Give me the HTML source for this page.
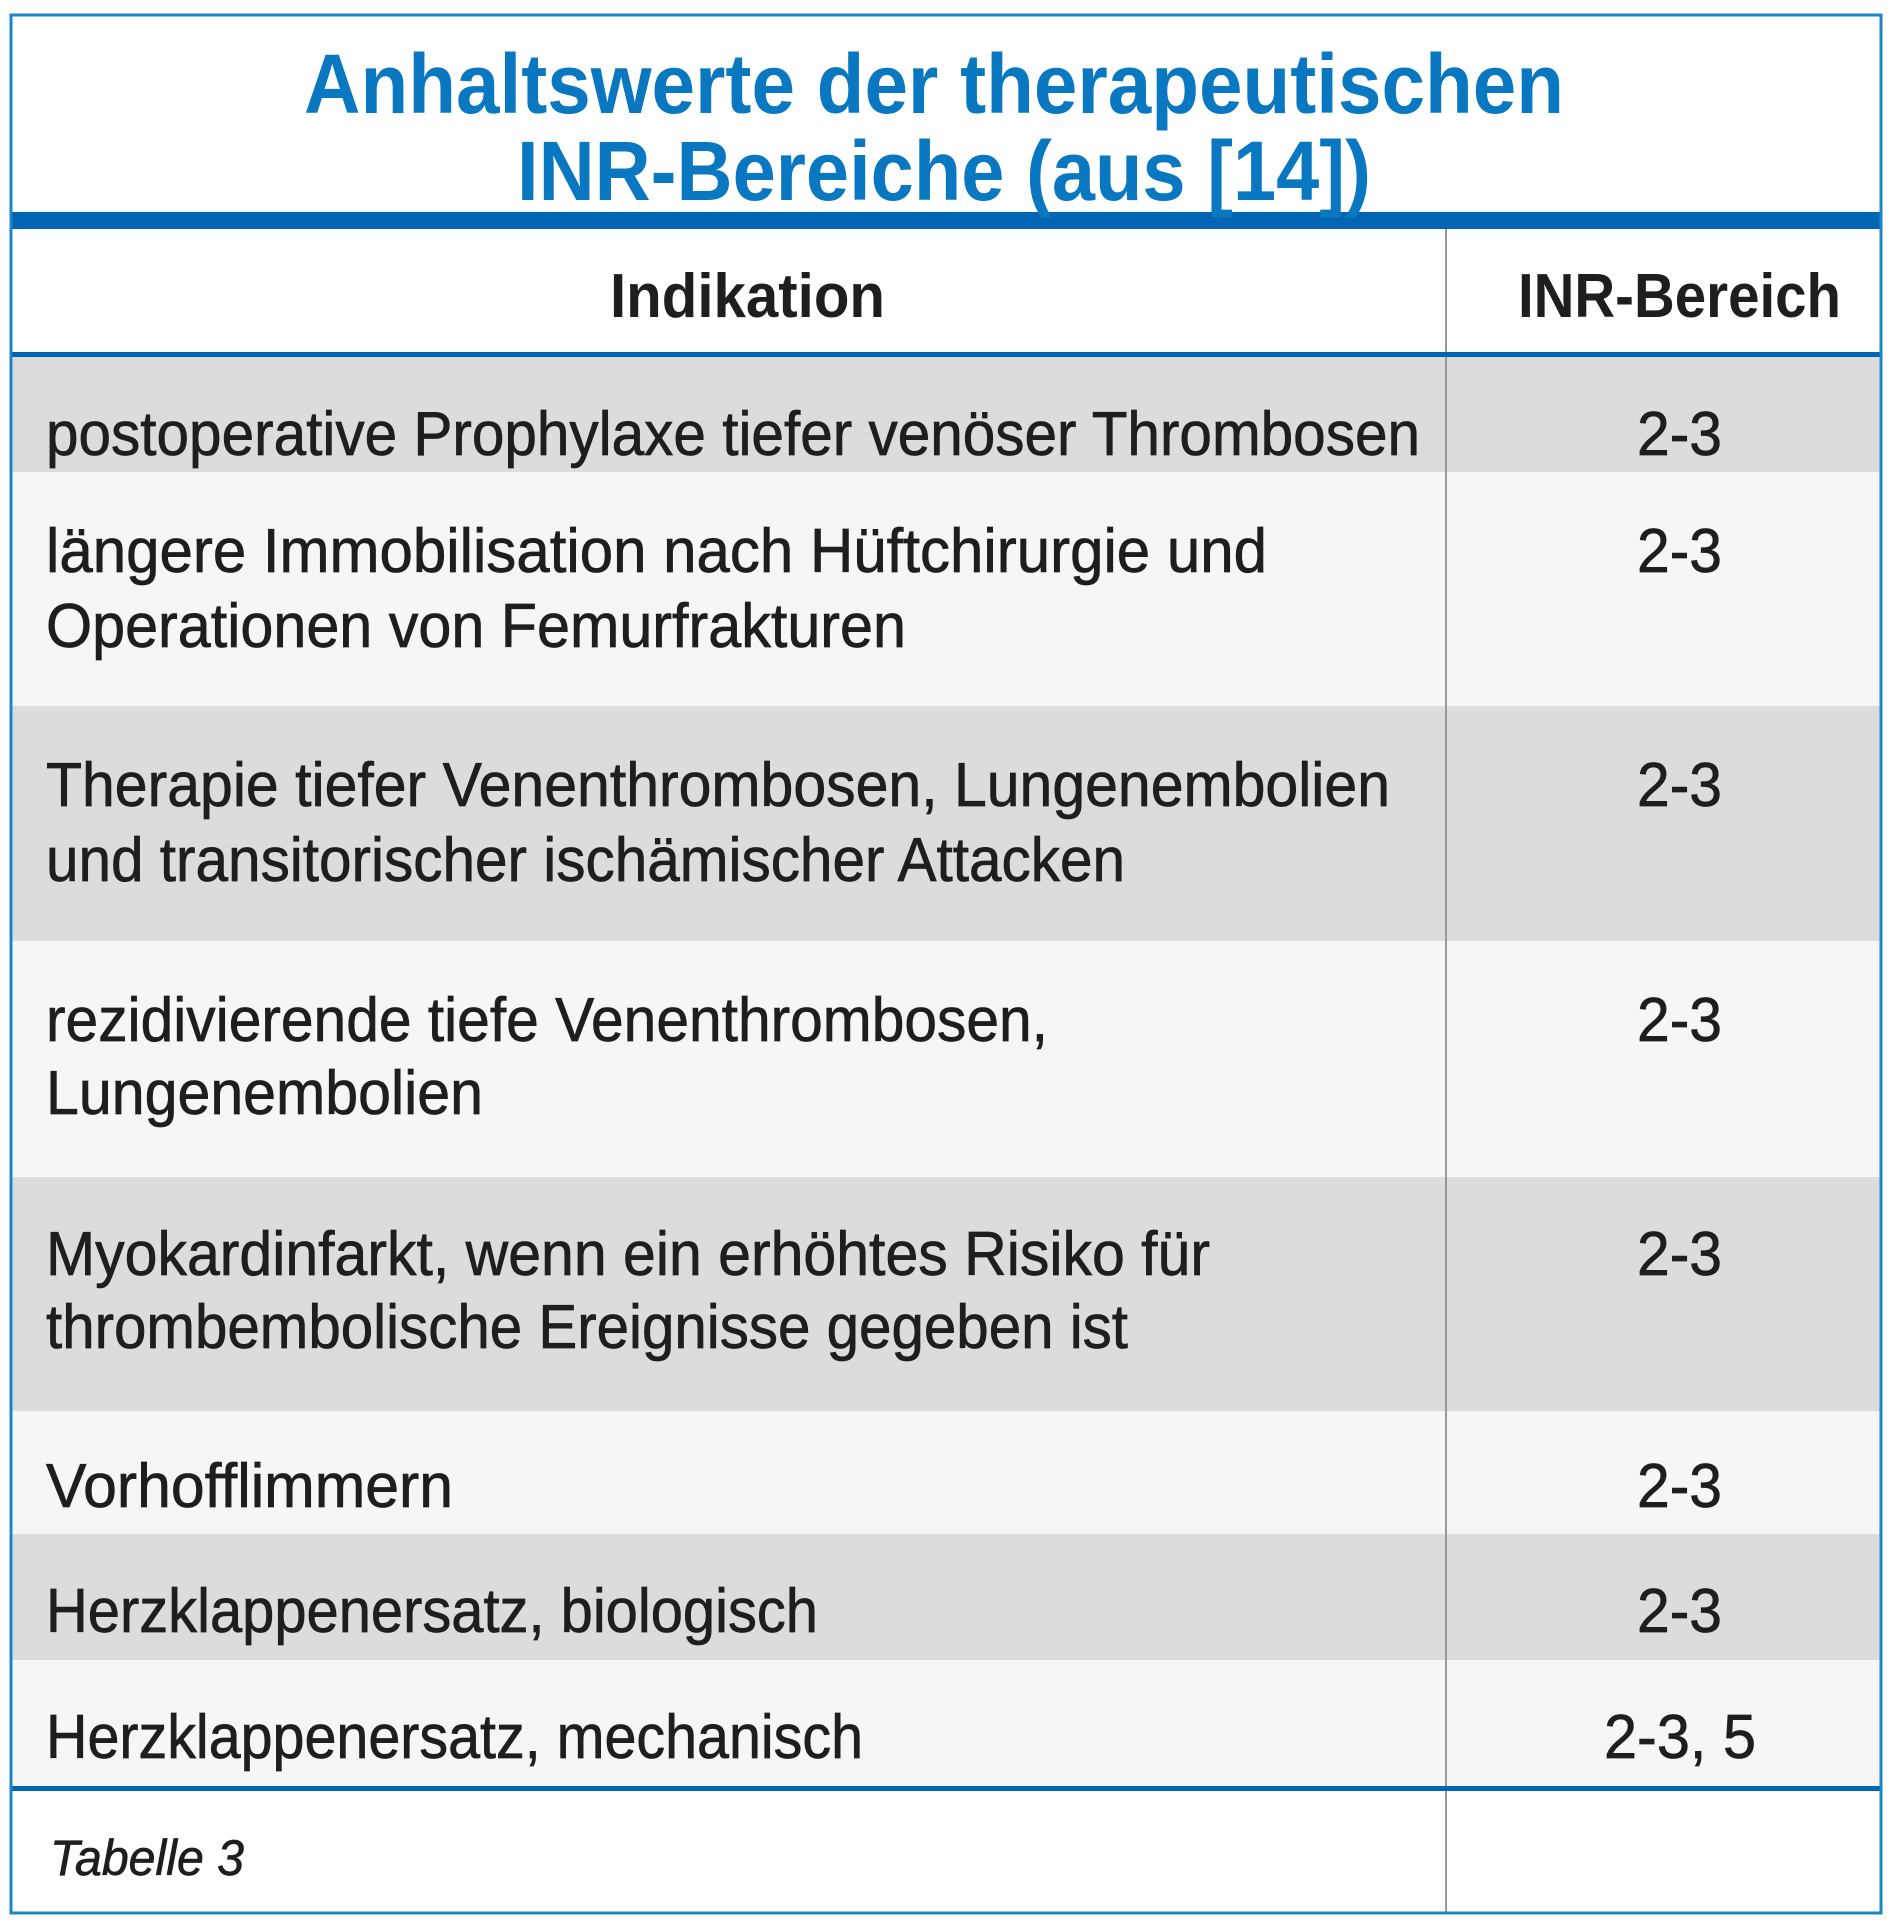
<!DOCTYPE html>
<html><head><meta charset="utf-8"><style>html,body{margin:0;padding:0;background:#fff}svg{display:block}</style></head>
<body>
<svg width="1900" height="1929" viewBox="0 0 1900 1929" xmlns="http://www.w3.org/2000/svg" font-family="Liberation Sans, sans-serif">
<rect x="0" y="0" width="1900" height="1929" fill="#fff"/>
<rect x="12" y="357" width="1869" height="115" fill="#dcdcde"/>
<rect x="12" y="472" width="1869" height="234" fill="#f6f6f6"/>
<rect x="12" y="706" width="1869" height="235" fill="#dcdcde"/>
<rect x="12" y="941" width="1869" height="236" fill="#f6f6f6"/>
<rect x="12" y="1177" width="1869" height="234" fill="#dcdcde"/>
<rect x="12" y="1411" width="1869" height="123" fill="#f6f6f6"/>
<rect x="12" y="1534" width="1869" height="126" fill="#dcdcde"/>
<rect x="12" y="1660" width="1869" height="126" fill="#f6f6f6"/>
<line x1="1446" y1="229" x2="1446" y2="1912" stroke="#999" stroke-width="2"/>
<rect x="11" y="212" width="1871" height="17" fill="#0066b3"/>
<rect x="11" y="352" width="1871" height="5" fill="#0066b3"/>
<rect x="11" y="1786" width="1871" height="5" fill="#0066b3"/>
<rect x="11" y="15" width="1870" height="1898" fill="none" stroke="#1a86c8" stroke-width="3"/>
<g fill="#0a78c0" font-weight="bold" font-size="84">
<text x="304" y="113" textLength="1260" lengthAdjust="spacingAndGlyphs">Anhaltswerte der therapeutischen</text>
<text x="517" y="200" textLength="854" lengthAdjust="spacingAndGlyphs">INR-Bereiche (aus [14])</text>
</g>
<g fill="#1e1e1e" font-size="62" font-weight="bold">
<text x="610" y="317" textLength="275" lengthAdjust="spacingAndGlyphs">Indikation</text>
<text x="1518" y="317" textLength="323" lengthAdjust="spacingAndGlyphs">INR-Bereich</text>
</g>
<g fill="#1e1e1e" stroke="#1e1e1e" stroke-width="0.7" font-size="62">
<text x="46" y="455" textLength="1374" lengthAdjust="spacingAndGlyphs">postoperative Prophylaxe tiefer venöser Thrombosen</text>
<text x="46" y="572" textLength="1221" lengthAdjust="spacingAndGlyphs">längere Immobilisation nach Hüftchirurgie und</text>
<text x="46" y="647" textLength="860" lengthAdjust="spacingAndGlyphs">Operationen von Femurfrakturen</text>
<text x="46" y="806" textLength="1344" lengthAdjust="spacingAndGlyphs">Therapie tiefer Venenthrombosen, Lungenembolien</text>
<text x="46" y="881" textLength="1079" lengthAdjust="spacingAndGlyphs">und transitorischer ischämischer Attacken</text>
<text x="46" y="1041" textLength="1002" lengthAdjust="spacingAndGlyphs">rezidivierende tiefe Venenthrombosen,</text>
<text x="46" y="1114" textLength="437" lengthAdjust="spacingAndGlyphs">Lungenembolien</text>
<text x="46" y="1275" textLength="1164" lengthAdjust="spacingAndGlyphs">Myokardinfarkt, wenn ein erhöhtes Risiko für</text>
<text x="46" y="1348" textLength="1082" lengthAdjust="spacingAndGlyphs">thrombembolische Ereignisse gegeben ist</text>
<text x="46" y="1507" textLength="407" lengthAdjust="spacingAndGlyphs">Vorhofflimmern</text>
<text x="46" y="1632" textLength="772" lengthAdjust="spacingAndGlyphs">Herzklappenersatz, biologisch</text>
<text x="46" y="1758" textLength="817" lengthAdjust="spacingAndGlyphs">Herzklappenersatz, mechanisch</text>
<text x="1637" y="455" textLength="85" lengthAdjust="spacingAndGlyphs">2-3</text>
<text x="1637" y="572" textLength="85" lengthAdjust="spacingAndGlyphs">2-3</text>
<text x="1637" y="806" textLength="85" lengthAdjust="spacingAndGlyphs">2-3</text>
<text x="1637" y="1041" textLength="85" lengthAdjust="spacingAndGlyphs">2-3</text>
<text x="1637" y="1275" textLength="85" lengthAdjust="spacingAndGlyphs">2-3</text>
<text x="1637" y="1507" textLength="85" lengthAdjust="spacingAndGlyphs">2-3</text>
<text x="1637" y="1632" textLength="85" lengthAdjust="spacingAndGlyphs">2-3</text>
<text x="1604" y="1758" textLength="152" lengthAdjust="spacingAndGlyphs">2-3, 5</text>
<text x="50" y="1875" font-size="50" font-style="italic" textLength="194" lengthAdjust="spacingAndGlyphs">Tabelle 3</text>
</g>
</svg>
</body></html>
